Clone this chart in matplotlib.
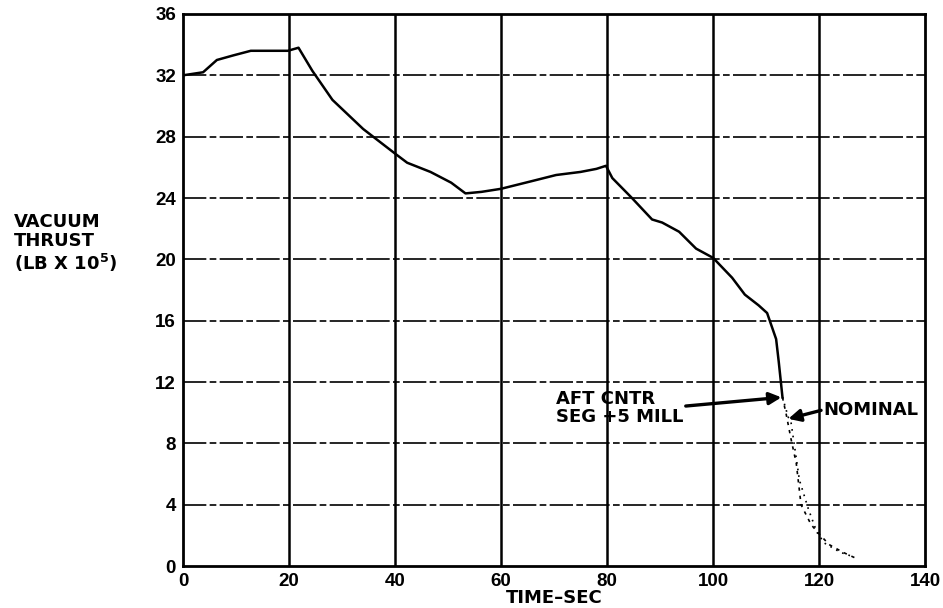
import matplotlib
matplotlib.use("Agg")
import matplotlib.pyplot as plt

# Main thrust trace (solid)
t_main = [0, 3.8, 6.4, 9.5, 12.8, 16.5, 19.8, 21.8, 24.4, 28.2, 34, 40, 42.3, 46.7, 50.6, 53.3,
          56.3, 60, 65.8, 70.4, 75, 78, 79.8, 81, 84.7, 88.5, 90.4, 93.6, 96.8, 100,
          103.6, 106, 108.6, 110.2, 111.9, 112.4, 113.1]
f_main = [32.0, 32.2, 33.0, 33.3, 33.6, 33.6, 33.6, 33.8, 32.3, 30.4, 28.5, 26.9, 26.3, 25.7, 25.0, 24.3,
          24.4, 24.6, 25.1, 25.5, 25.7, 25.9, 26.1, 25.3, 24.0, 22.6, 22.4, 21.8, 20.7, 20.1,
          18.8, 17.7, 17.0, 16.5, 14.8, 13.3, 11.0]

# Tail-off traces (dotted)
t_aft = [113.1, 113.8, 114.7, 115.7, 116.6, 118.5, 120, 121.9, 124.5, 127]
f_aft = [11.0, 9.9, 8.3, 6.7, 4.0, 2.7, 2.1, 1.4, 0.9, 0.5]
t_nom = [113.1, 114.2, 114.7, 115.5, 116.3, 118, 119.6, 121, 124, 126.5]
f_nom = [11.0, 9.7, 9.4, 7.5, 5.6, 3.7, 2.2, 1.5, 0.9, 0.6]

x_ticks = [0, 20, 40, 60, 80, 100, 120, 140]
y_ticks = [0, 4, 8, 12, 16, 20, 24, 28, 32, 36]

plt.rcParams['font.family'] = ['Liberation Sans', 'DejaVu Sans']
LAB = dict(family='DejaVu Sans', fontweight='bold')

fig = plt.figure(figsize=(9.43, 6.08), dpi=100)
ax = fig.add_axes([0.194, 0.069, 0.787, 0.908])

ax.set_xlim(0, 140)
ax.set_ylim(0, 36)
ax.set_xticks(x_ticks)
ax.set_yticks(y_ticks)
ax.tick_params(length=0, labelsize=13.5, pad=5)
for lab in ax.get_xticklabels() + ax.get_yticklabels():
    lab.set_fontweight('bold')

for x in x_ticks[1:-1]:
    ax.axvline(x, color='black', lw=1.8, zorder=1)
for y in y_ticks[1:-1]:
    ax.axhline(y, color='black', lw=1.2, dashes=(14, 2, 4, 2), zorder=1)
for s in ax.spines.values():
    s.set_linewidth(2.0)

ax.plot(t_main, f_main, color='black', lw=1.8, zorder=3)
ax.plot(t_aft, f_aft, color='black', lw=1.2, ls=(0, (2, 3)), zorder=3)
ax.plot(t_nom, f_nom, color='black', lw=1.2, ls=(0, (1, 3)), zorder=3)

ax.annotate('AFT CNTR\nSEG +5 MILL', xy=(112.9, 11.0), xytext=(70.3, 10.3),
            fontsize=13, ha='left', va='center', linespacing=1.0, **LAB,
            arrowprops=dict(arrowstyle='-|>', color='black', lw=2.4, mutation_scale=18,
                            shrinkA=0, shrinkB=0, relpos=(1.0, 0.55)))
ax.annotate('NOMINAL', xy=(114.2, 9.6), xytext=(120.9, 10.2),
            fontsize=13, ha='left', va='center', annotation_clip=False, **LAB,
            arrowprops=dict(arrowstyle='-|>', color='black', lw=2.4, mutation_scale=18,
                            shrinkA=0, shrinkB=0, relpos=(0.0, 0.5)))

ax.set_xlabel('TIME\u2013SEC', fontsize=13, labelpad=-1, **LAB)
fig.text(0.015, 0.600, 'VACUUM\nTHRUST\n(LB X 10$^{\\mathbf{5}}$)', fontsize=13,
         ha='left', va='center', linespacing=1.1, **LAB)

fig.savefig('out.png', dpi=100)
